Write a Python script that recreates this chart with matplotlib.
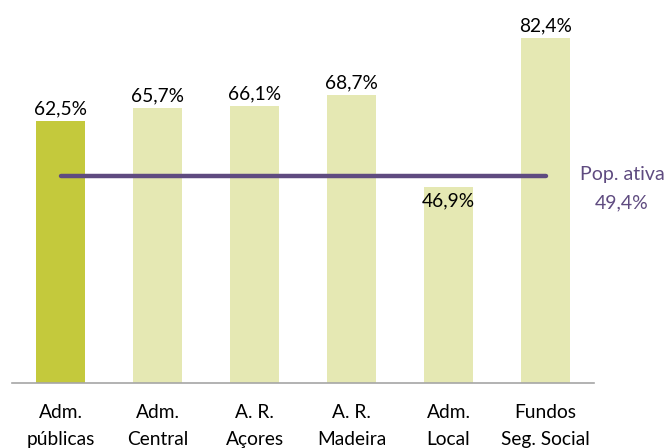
import matplotlib.pyplot as plt

plt.rcParams['font.family'] = ['Lato', 'DejaVu Sans']

categories = ["Adm.\npúblicas", "Adm.\nCentral", "A. R.\nAçores", "A. R.\nMadeira", "Adm.\nLocal", "Fundos\nSeg. Social"]
values = [62.5, 65.7, 66.1, 68.7, 46.9, 82.4]
labels = ["62,5%", "65,7%", "66,1%", "68,7%", "46,9%", "82,4%"]
pop_ativa = 49.4
pop_label = "Pop. ativa\n49,4%"

bar_colors = ["#c4c93c"] + ["#e5e8b3"] * 5
line_color = "#5f4b80"

fig = plt.figure(figsize=(6.7, 4.48), dpi=100)
ax = fig.add_axes([12 / 670, 65 / 448, 582 / 670, 377 / 448])

x = list(range(len(categories)))
ax.bar(x, values, width=0.5, color=bar_colors, zorder=1)
# linha da população ativa
ax.plot([x[0], x[-1]], [pop_ativa, pop_ativa], color=line_color, lw=3.2,
        solid_capstyle="round", zorder=2)

for xi, v, lab in zip(x, values, labels):
    if v < pop_ativa:
        ax.text(xi, v - 1.5, lab, ha="center", va="top", fontsize=13.8, color="black", zorder=3)
    else:
        ax.text(xi, v + 0.8, lab, ha="center", va="bottom", fontsize=13.8, color="black", zorder=3)

ax.text(5.79, pop_ativa - 3.0, pop_label, ha="center", va="center", fontsize=14,
        color=line_color, linespacing=1.75, clip_on=False)

ax.set_xlim(-0.5, 5.5)
ax.set_ylim(0, 90)
ax.set_xticks(x)
ax.set_xticklabels(categories, fontsize=13.8, linespacing=1.75)
ax.tick_params(axis="x", length=0, pad=15)
ax.set_yticks([])
for s in ["top", "right", "left"]:
    ax.spines[s].set_visible(False)
ax.spines["bottom"].set_color("#a6a6a6")
ax.spines["bottom"].set_linewidth(1.2)

fig.savefig("out.png", dpi=100)
